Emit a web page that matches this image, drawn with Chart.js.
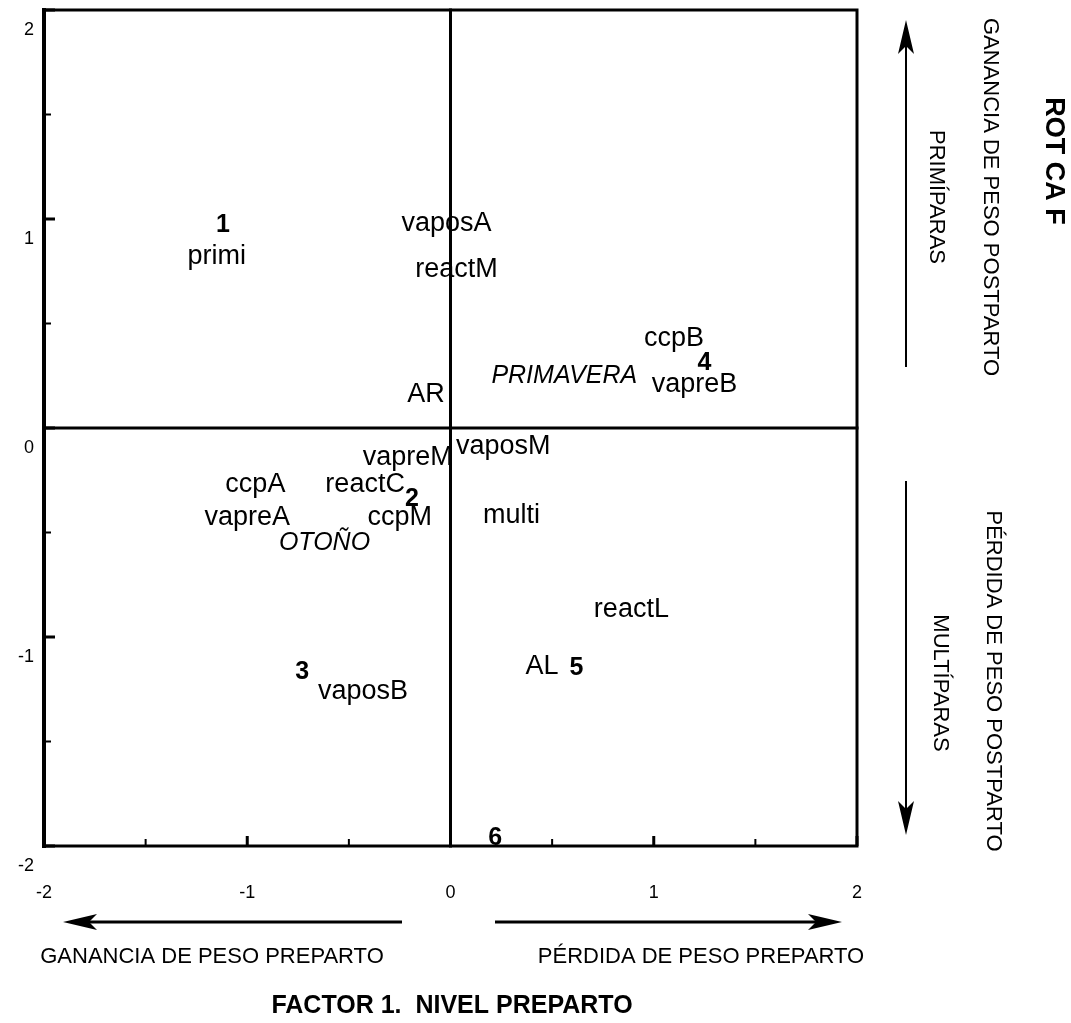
<!DOCTYPE html>
<html>
<head>
<meta charset="utf-8">
<script src="https://cdn.jsdelivr.net/npm/chart.js@4/dist/chart.umd.min.js"></script>
<style>
  body { margin: 0; background: #fff; }
  #wrap { width: 1071px; height: 1023px; }
</style>
</head>
<body>
<div id="wrap"><canvas id="chart" width="1071" height="1023"></canvas></div>
<script>
// ===============================
//  DATA
// ===============================
const varNames = ["primi", "vaposA", "reactM", "AR", "ccpB", "vapreB", "vaposM", "multi",
    "vapreM", "ccpA", "reactC", "vapreA", "ccpM", "vaposB", "reactL", "AL"];
const varX = [-1.15, -0.02, 0.03, -0.12, 1.10, 1.20, 0.26, 0.30,
    -0.21, -0.96, -0.42, -1.00, -0.25, -0.43, 0.89, 0.45];
const varY = [0.82, 0.98, 0.76, 0.16, 0.43, 0.21, -0.09, -0.42,
    -0.14, -0.27, -0.27, -0.43, -0.43, -1.26, -0.87, -1.14];

const clusterNames = ["1", "2", "3", "4", "5", "6"];
const clusterX = [-1.12, -0.19, -0.73, 1.25, 0.62, 0.22];
const clusterY = [0.97, -0.34, -1.17, 0.31, -1.15, -1.96];

const seasonNames = ["PRIMAVERA", "OTOÑO"];
const seasonX = [0.56, -0.62];
const seasonY = [0.25, -0.55];

const axisTicks = [-2, -1, 0, 1, 2];
const minorTicks = [-1.5, -0.5, 0.5, 1.5];

const FONT = "'Liberation Sans', Arial, sans-serif";

// ===============================
//  DRAW HELPERS
// ===============================
function text(ctx, str, x, y, font, align, rot) {
    ctx.save();
    ctx.translate(x, y);
    if (rot) ctx.rotate(rot);
    ctx.font = font;
    ctx.fillStyle = "#000";
    ctx.textAlign = align || "center";
    ctx.textBaseline = "middle";
    ctx.fillText(str, 0, 0);
    ctx.restore();
}

function arrow(ctx, x1, y1, x2, y2, lw) {
    const ang = Math.atan2(y2 - y1, x2 - x1);
    const len = 34, half = 8, notch = 26;
    ctx.save();
    ctx.strokeStyle = "#000";
    ctx.fillStyle = "#000";
    ctx.lineWidth = lw;
    ctx.beginPath();
    ctx.moveTo(x1, y1);
    ctx.lineTo(x2 - Math.cos(ang) * notch, y2 - Math.sin(ang) * notch);
    ctx.stroke();
    ctx.translate(x2, y2);
    ctx.rotate(ang);
    ctx.beginPath();
    ctx.moveTo(0, 0);
    ctx.lineTo(-len, -half);
    ctx.lineTo(-notch, 0);
    ctx.lineTo(-len, half);
    ctx.closePath();
    ctx.fill();
    ctx.restore();
}

// ===============================
//  FRAME, AXES AND TEXT PLUGIN
// ===============================
const framePlugin = {
    id: "frame",
    beforeDatasetsDraw(chart) {
        const ctx = chart.ctx;
        const a = chart.chartArea;
        const xs = chart.scales.x, ys = chart.scales.y;
        const x0 = xs.getPixelForValue(0), y0 = ys.getPixelForValue(0);

        ctx.save();
        ctx.strokeStyle = "#000";
        ctx.lineCap = "square";

        // frame
        ctx.lineWidth = 3;
        ctx.strokeRect(a.left, a.top, a.right - a.left, a.bottom - a.top);
        ctx.lineWidth = 4;
        ctx.beginPath();
        ctx.moveTo(a.left, a.top);
        ctx.lineTo(a.left, a.bottom);
        ctx.stroke();

        // zero lines
        ctx.lineWidth = 3;
        ctx.beginPath();
        ctx.moveTo(x0, a.top);
        ctx.lineTo(x0, a.bottom);
        ctx.moveTo(a.left, y0);
        ctx.lineTo(a.right, y0);
        ctx.stroke();

        // inward ticks
        ctx.lineCap = "butt";
        axisTicks.forEach(v => {
            ctx.lineWidth = 3;
            ctx.beginPath();
            const py = ys.getPixelForValue(v);
            ctx.moveTo(a.left, py);
            ctx.lineTo(a.left + 11, py);
            const px = xs.getPixelForValue(v);
            ctx.moveTo(px, a.bottom);
            ctx.lineTo(px, a.bottom - 10);
            ctx.stroke();
        });
        minorTicks.forEach(v => {
            ctx.lineWidth = 2;
            ctx.beginPath();
            const py = ys.getPixelForValue(v);
            ctx.moveTo(a.left, py);
            ctx.lineTo(a.left + 7, py);
            const px = xs.getPixelForValue(v);
            ctx.moveTo(px, a.bottom);
            ctx.lineTo(px, a.bottom - 7);
            ctx.stroke();
        });
        ctx.restore();

        // tick labels
        axisTicks.forEach(v => {
            text(ctx, String(v), a.left - 10, ys.getPixelForValue(v) + 20, "18px " + FONT, "right");
            text(ctx, String(v), xs.getPixelForValue(v), a.bottom + 47, "18px " + FONT, "center");
        });
    },
    afterDatasetsDraw(chart) {
        const ctx = chart.ctx;
        const fonts = ["27px " + FONT, "bold 25px " + FONT, "italic 25px " + FONT];
        chart.data.datasets.forEach((ds, i) => {
            const meta = chart.getDatasetMeta(i);
            meta.data.forEach((pt, j) => {
                text(ctx, ds.names[j], pt.x, pt.y, fonts[i], "center");
            });
        });

        // bottom annotations
        arrow(ctx, 402, 922, 63, 922, 3);
        arrow(ctx, 495, 922, 842, 922, 3);
        text(ctx, "GANANCIA DE PESO PREPARTO", 212, 957, "22px " + FONT);
        text(ctx, "PÉRDIDA DE PESO PREPARTO", 701, 957, "22px " + FONT);
        text(ctx, "FACTOR 1.  NIVEL PREPARTO", 452, 1006, "bold 25px " + FONT);

        // right annotations
        const r = Math.PI / 2;
        arrow(ctx, 906, 367, 906, 20, 2);
        arrow(ctx, 906, 481, 906, 835, 2);
        text(ctx, "GANANCIA DE PESO POSTPARTO", 990, 197, "22px " + FONT, "center", r);
        text(ctx, "PRIMÍPARAS", 936, 197, "22px " + FONT, "center", r);
        text(ctx, "PÉRDIDA DE PESO POSTPARTO", 993, 681, "22px " + FONT, "center", r);
        text(ctx, "MULTÍPARAS", 940, 683, "22px " + FONT, "center", r);
        text(ctx, "ROT CA F", 1053, 161, "bold 27px " + FONT, "center", r);
    }
};

// ===============================
//  BUILD CHART
// ===============================
function toPoints(xs, ys) {
    return xs.map((x, i) => ({ x, y: ys[i] }));
}

new Chart(document.getElementById("chart"), {
    type: "scatter",
    data: {
        datasets: [
            { label: "variables", names: varNames, data: toPoints(varX, varY) },
            { label: "grupos", names: clusterNames, data: toPoints(clusterX, clusterY) },
            { label: "estaciones", names: seasonNames, data: toPoints(seasonX, seasonY) }
        ]
    },
    options: {
        responsive: false,
        animation: false,
        elements: { point: { radius: 0, hoverRadius: 0 } },
        layout: { padding: { left: 44, right: 214, top: 10, bottom: 177 } },
        plugins: { legend: { display: false }, tooltip: { enabled: false } },
        scales: {
            x: { type: "linear", min: -2, max: 2, display: false },
            y: { type: "linear", min: -2, max: 2, display: false }
        }
    },
    plugins: [framePlugin]
});
</script>
</body>
</html>
